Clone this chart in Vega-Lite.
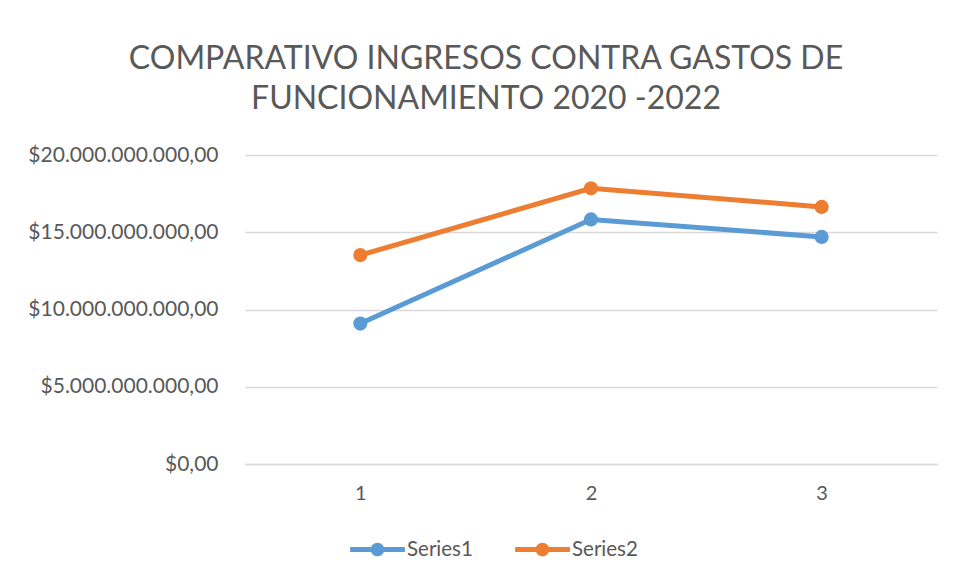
{
  "$schema": "https://vega.github.io/schema/vega-lite/v6.json",
  "width": 692,
  "height": 309,
  "autosize": {"type": "none"},
  "padding": {"left": 245, "top": 155, "right": 16, "bottom": 115},
  "background": "white",
  "config": {
    "font": "Lato",
    "view": {"stroke": null},
    "locale": {
      "number": {"decimal": ",", "thousands": ".", "grouping": [3], "currency": ["$", ""]}
    }
  },
  "title": {
    "text": ["COMPARATIVO INGRESOS CONTRA GASTOS DE", "FUNCIONAMIENTO 2020 -2022"],
    "font": "Lato",
    "fontSize": 32,
    "fontWeight": "normal",
    "color": "#595959",
    "anchor": "middle",
    "dx": -105,
    "lineHeight": 40,
    "offset": 28
  },
  "data": {
    "values": [
      {"x": "1", "series": "Series1", "value": 9090000000},
      {"x": "2", "series": "Series1", "value": 15830000000},
      {"x": "3", "series": "Series1", "value": 14700000000},
      {"x": "1", "series": "Series2", "value": 13520000000},
      {"x": "2", "series": "Series2", "value": 17840000000},
      {"x": "3", "series": "Series2", "value": 16640000000}
    ]
  },
  "mark": {
    "type": "line",
    "strokeWidth": 5,
    "point": {"filled": true, "size": 200}
  },
  "encoding": {
    "x": {
      "field": "x",
      "type": "ordinal",
      "scale": {"type": "point", "padding": 0.5},
      "axis": {
        "title": null,
        "labelAngle": 0,
        "labelFontSize": 20,
        "labelColor": "#595959",
        "labelPadding": 19,
        "ticks": false,
        "domain": true,
        "domainColor": "#D9D9D9",
        "domainWidth": 1.5,
        "grid": false
      }
    },
    "y": {
      "field": "value",
      "type": "quantitative",
      "scale": {"domain": [0, 20000000000]},
      "axis": {
        "title": null,
        "values": [0, 5000000000, 10000000000, 15000000000, 20000000000],
        "format": "$,.2f",
        "labelFontSize": 21,
        "labelLimit": 400,
        "labelColor": "#595959",
        "labelPadding": 27,
        "ticks": false,
        "domain": false,
        "grid": true,
        "gridColor": "#D9D9D9",
        "gridWidth": 1.5
      }
    },
    "color": {
      "field": "series",
      "type": "nominal",
      "scale": {"domain": ["Series1", "Series2"], "range": ["#5B9BD5", "#ED7D31"]},
      "legend": {
        "title": null,
        "orient": "none",
        "direction": "horizontal",
        "legendX": 105,
        "legendY": 367,
        "symbolType": "M-1,-0.09H1V0.09H-1Z M0.25,0 A0.25,0.25 0 1,1 -0.25,0 A0.25,0.25 0 1,1 0.25,0 Z",
        "symbolSize": 3000,
        "symbolStrokeWidth": 0,
        "labelFontSize": 20.5,
        "labelColor": "#595959",
        "labelOffset": 2,
        "columnPadding": 42
      }
    }
  }
}
